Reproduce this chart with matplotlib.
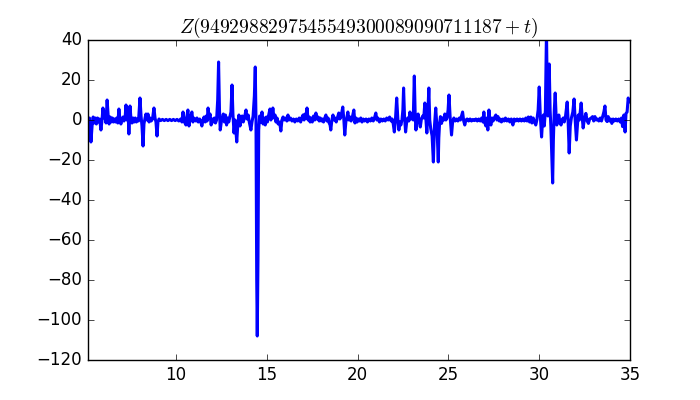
import numpy as np
import matplotlib
matplotlib.use("Agg")
import matplotlib.pyplot as plt

plt.style.use("classic")

# sample points (t, Z), ten per row
t_vals = [
    5.12, 5.18, 5.23, 5.31, 5.38, 5.43, 5.49, 5.55, 5.61, 5.67,
    5.73, 5.79, 5.86, 5.92, 5.97, 6.03, 6.08, 6.14, 6.20, 6.26,
    6.31, 6.37, 6.43, 6.49, 6.55, 6.61, 6.67, 6.73, 6.79, 6.85,
    6.91, 6.96, 7.02, 7.08, 7.13, 7.19, 7.24, 7.29, 7.35, 7.40,
    7.46, 7.52, 7.57, 7.63, 7.69, 7.75, 7.81, 7.87, 7.93, 8.01,
    8.07, 8.12, 8.18, 8.23, 8.29, 8.34, 8.40, 8.45, 8.51, 8.57,
    8.63, 8.70, 8.78, 8.84, 8.89, 8.95, 9.00, 9.06, 9.15, 9.25,
    9.35, 9.45, 9.55, 9.65, 9.75, 9.85, 9.95, 10.05, 10.15, 10.25,
    10.32, 10.38, 10.46, 10.54, 10.60, 10.65, 10.71, 10.78, 10.87, 10.93,
    10.98, 11.09, 11.15, 11.22, 11.30, 11.36, 11.42, 11.48, 11.54, 11.60,
    11.66, 11.71, 11.76, 11.82, 11.87, 11.93, 11.99, 12.05, 12.11, 12.17,
    12.23, 12.29, 12.34, 12.39, 12.43, 12.49, 12.55, 12.60, 12.66, 12.72,
    12.78, 12.84, 12.90, 12.96, 13.02, 13.08, 13.13, 13.19, 13.25, 13.34,
    13.40, 13.46, 13.52, 13.58, 13.64, 13.70, 13.76, 13.85, 13.91, 13.97,
    14.03, 14.12, 14.18, 14.24, 14.31, 14.36, 14.40, 14.44, 14.47, 14.51,
    14.55, 14.60, 14.66, 14.73, 14.79, 14.85, 14.91, 14.97, 15.03, 15.10,
    15.17, 15.22, 15.28, 15.33, 15.39, 15.45, 15.50, 15.56, 15.62, 15.70,
    15.77, 15.83, 15.89, 15.95, 16.02, 16.10, 16.16, 16.22, 16.30, 16.38,
    16.46, 16.54, 16.62, 16.70, 16.78, 16.86, 16.94, 16.99, 17.05, 17.10,
    17.16, 17.21, 17.27, 17.33, 17.38, 17.44, 17.50, 17.57, 17.64, 17.70,
    17.76, 17.82, 17.88, 17.94, 18.00, 18.06, 18.12, 18.19, 18.25, 18.31,
    18.37, 18.43, 18.48, 18.52, 18.58, 18.64, 18.70, 18.76, 18.82, 18.90,
    18.96, 19.02, 19.09, 19.18, 19.24, 19.29, 19.35, 19.40, 19.46, 19.52,
    19.58, 19.64, 19.72, 19.79, 19.85, 19.91, 19.97, 20.03, 20.10, 20.17,
    20.24, 20.31, 20.38, 20.46, 20.54, 20.62, 20.70, 20.78, 20.86, 20.94,
    21.00, 21.06, 21.12, 21.20, 21.28, 21.36, 21.44, 21.52, 21.60, 21.68,
    21.76, 21.84, 21.90, 21.96, 22.02, 22.08, 22.15, 22.21, 22.27, 22.32,
    22.38, 22.44, 22.49, 22.53, 22.58, 22.64, 22.70, 22.76, 22.82, 22.88,
    22.94, 23.00, 23.06, 23.12, 23.17, 23.21, 23.27, 23.33, 23.39, 23.45,
    23.51, 23.58, 23.64, 23.70, 23.76, 23.81, 23.86, 23.92, 23.97, 24.02,
    24.10, 24.17, 24.23, 24.30, 24.37, 24.44, 24.47, 24.51, 24.56, 24.62,
    24.68, 24.74, 24.80, 24.86, 24.92, 24.98, 25.03, 25.09, 25.17, 25.23,
    25.30, 25.37, 25.45, 25.52, 25.60, 25.66, 25.72, 25.78, 25.84, 25.90,
    25.96, 26.03, 26.11, 26.19, 26.27, 26.35, 26.43, 26.51, 26.59, 26.67,
    26.75, 26.83, 26.90, 26.95, 27.01, 27.06, 27.12, 27.17, 27.23, 27.29,
    27.34, 27.40, 27.46, 27.52, 27.61, 27.67, 27.73, 27.80, 27.86, 27.92,
    28.00, 28.07, 28.14, 28.22, 28.30, 28.38, 28.46, 28.55, 28.62, 28.70,
    28.78, 28.86, 28.94, 29.02, 29.10, 29.18, 29.26, 29.33, 29.40, 29.47,
    29.54, 29.60, 29.67, 29.74, 29.81, 29.87, 29.94, 30.00, 30.06, 30.13,
    30.18, 30.23, 30.28, 30.34, 30.40, 30.45, 30.48, 30.55, 30.60, 30.64,
    30.70, 30.74, 30.78, 30.83, 30.88, 30.93, 30.97, 31.03, 31.08, 31.14,
    31.20, 31.26, 31.32, 31.38, 31.45, 31.54, 31.59, 31.65, 31.71, 31.77,
    31.85, 31.92, 31.98, 32.05, 32.11, 32.15, 32.21, 32.31, 32.37, 32.42,
    32.48, 32.57, 32.64, 32.71, 32.78, 32.86, 32.94, 33.00, 33.07, 33.14,
    33.21, 33.28, 33.36, 33.43, 33.50, 33.56, 33.62, 33.68, 33.74, 33.80,
    33.87, 33.93, 34.00, 34.07, 34.14, 34.22, 34.30, 34.38, 34.46, 34.53,
    34.59, 34.66, 34.73, 34.78, 34.84, 34.90, 34.95, 35.02,
]
z_vals = [
    1, -2, 1, -11, -2, 1.5, -1.5, 1, -2, 1,
    -1, 0.5, -5, 0, 6, 1, 4, -1.5, 10, 2,
    -2, 1.5, -1, 1, -1, 0.5, -1, 1, -1.5, 5.5,
    0, -2, 0.5, 1.5, -0.5, 1, 7.5, 0, 5, -7,
    7, 0, -1.5, 1, -1, 1, -1, 0.5, -0.5, 11,
    2, -3, -13, -2, 1, 3, 0, 3, -1, 1,
    -0.5, 0.5, 6, 1, -1, -8, -1, 0.5, -0.3, 0.3,
    -0.3, 0.3, -0.3, 0.3, -0.3, 0.3, -0.3, 0.3, -0.5, 0.5,
    -1, 4, -1, -2.5, 2, 5, -3, 1, 4, -1,
    1, -0.5, 1, -1, 0.5, -1, -3, 0, 1.5, -1,
    2, -0.5, 6, 1, 3, -2.5, 0.5, -1, 1, -1.5,
    0, 10, 29, 5, -5, -1, 1, 3, -1, 2.5,
    -2.5, 1, -1, 1.5, 4, 17.5, 3, -6.5, 0, -11,
    -2, 2.5, -3, 1, 2, -1, 1, 5, 0.5, 2.5,
    -1, -5, -1, 2, 12, 26.5, 0, -80, -108, -70,
    -5, 2, -1, 4, -2, 1, -2.5, 1.5, -1, 2.5,
    5.5, 0, 2, 6, 1, 2.5, -1, 1, -2, -1,
    -5.5, 0, 1.5, 0, 1, -0.5, 2.5, 0, 1, -0.5,
    0.5, -1, 0.5, -0.5, 1, -1, 1.5, 2.5, 0, 3,
    1, 6, 0, 1.5, -1, 1, -1, 2, 0, 3.5,
    0.5, 1.5, -0.5, 1, -0.5, 0.5, -1, 1, 2.5, -0.5,
    1, -1.5, -2.5, -5, 0, 2.5, 0, 1, -1, 1.5,
    3.5, 0.5, 2, 6.5, 0, -7.5, -1, 1, 4, 0,
    1.5, -0.5, 2, 5, -1.5, 1, -1, 0.5, -0.5, 1,
    -1, 0.5, -0.5, 0.5, -1, 0.5, -0.5, 1, -0.5, 1.5,
    3.5, 0, 1, -1, 0.5, -0.5, 0.5, -0.5, 1, 0,
    1.5, -0.5, 0.5, -2, -6, 0, 11, 1, -5, -1,
    -2.5, 0, 5, 16, 2, -6, -1, 1, -0.5, 4,
    0.5, 3, 0, 22, 2, -5, 1, 3, -1, -3.5,
    0.5, 2, 1, 8.5, 0, -6.5, 2, 16, 0, -4,
    -8, -21, -3, 6, -4, -21, -9, -2, 1.7, -1.7,
    1, 0, 3, 0, 1, 5, 12.5, 2, -7.5, -1,
    1, -0.5, 0.5, -0.5, 1, 0, 2, 4, -0.5, -2.5,
    0, 0.5, -0.5, 0.5, -0.5, 0.3, -0.3, 0.5, -0.5, 0.5,
    -0.5, 1, -1, 4, -1.5, -3, 1, -5, 5, -1,
    -2.5, 1, -0.5, 1, 2.5, 0, 1.7, -0.5, 0.5, -1,
    0.5, -0.5, 1, -0.5, 0.5, -1, 0.5, -2.5, 0.5, -0.5,
    0.5, -0.5, 0.5, -0.5, 0.5, -0.5, 1, -0.5, 1.5, -1,
    1.5, -1.5, 1, -1, -2.5, 0, 5, 16.5, 2, -8.5,
    -1, 2.5, -3, 5, 45, 6, 2, 28, 5, -3,
    -20, -31.5, -10, 5, 13.5, 2, -2.5, 1, 2.5, -1,
    -2.5, 0, 1, -1, 2, 9, 0, -16.5, -3, 1,
    4, 10.5, 0, -10, -2, 2.5, 0, 8.5, 1, -4,
    0, 3.3, -0.5, -1.7, 0.5, 1, 1.7, -0.5, 1.7, 0,
    0.5, -0.5, 1, -0.5, 2, 4, 7, 0, -0.8, 1.7,
    -0.5, 0.5, -1.7, 0.5, -0.5, 0.5, -0.5, 0.5, -1, 1,
    -3.3, 2.5, -6, 3.3, 4, 11, 9, 10,
]

title_text = r"$Z(9492988297545549300089090711187+t)$"
x_range = (5.12, 35)
y_range = (-120, 40)


def main():
    t = np.array(t_vals)
    z = np.array(z_vals)
    assert len(t) == len(z)

    fig, ax = plt.subplots(figsize=(7, 4), dpi=100)
    fig.patch.set_facecolor("white")
    ax.plot(t, z, color="b", lw=2.2)
    ax.set_xlim(*x_range)
    ax.set_ylim(*y_range)
    ax.set_title(title_text, fontsize=14)
    fig.savefig("out.png", dpi=100, facecolor="white")


if __name__ == '__main__':
    main()
